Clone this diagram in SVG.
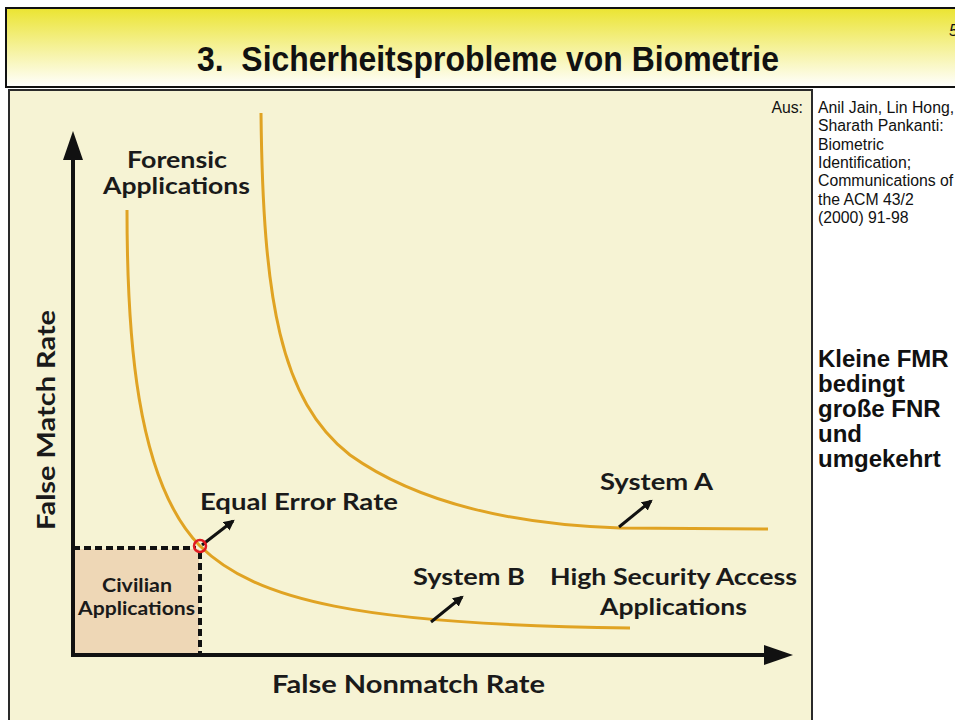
<svg xmlns="http://www.w3.org/2000/svg" width="955" height="720" viewBox="0 0 955 720">
<defs>
<linearGradient id="tg" x1="0" y1="0" x2="0" y2="1">
<stop offset="0" stop-color="#ebe431"/>
<stop offset="1" stop-color="#ffffff"/>
</linearGradient>
<marker id="ah" viewBox="0 0 10 10" refX="8" refY="5" markerWidth="3.6" markerHeight="3.6" orient="auto" markerUnits="strokeWidth">
<path d="M0,0 L10,5 L0,10 z" fill="#111"/>
</marker>
</defs>
<style>
.lbl{font-family:Lato,"Open Sans",sans-serif;font-weight:bold;fill:#1a1a1a;font-size:23px}
.sm{font-size:18px}
.ax{font-size:24px}
.cite{font-family:"Liberation Sans",Arial,sans-serif;font-size:15.8px;fill:#111}
.big{font-family:"Liberation Sans",Arial,sans-serif;font-size:24px;font-weight:bold;fill:#111}
.curve{fill:none;stroke:#e0a323;stroke-width:3}
.dash{fill:none;stroke:#111;stroke-width:4;stroke-dasharray:7 4}
.pt{fill:none;stroke:#111;stroke-width:3;marker-end:url(#ah)}
</style>
<rect width="955" height="720" fill="#ffffff"/>
<g id="titlebox">
<rect x="6" y="8" width="960" height="79" fill="url(#tg)" stroke="#111" stroke-width="2"/>
<text x="197" y="71" textLength="582" lengthAdjust="spacingAndGlyphs" font-family="'Liberation Sans',Arial,sans-serif" font-weight="bold" font-size="35" fill="#111">3.&#160; Sicherheitsprobleme von Biometrie</text>
<text x="949" y="36" font-family="'Liberation Sans',Arial,sans-serif" font-style="italic" font-size="16" fill="#111">5</text>
</g>
<g id="chart-bg">
<rect x="9" y="90" width="803" height="640" fill="#f6f3d4" stroke="#2a2a2a" stroke-width="2"/>
<rect x="75" y="549" width="124" height="105" fill="#eed7b6"/>
</g>
<g id="connectors">
<path class="curve" d="M261,113 C263,300 280,400 350,455 C420,505 520,525 620,528 L768,529"/>
<path class="curve" d="M127,210 C127,330 135,480 200,546 C255,600 360,625 630,628"/>
<path class="dash" d="M73,548 L196,548"/>
<path class="dash" d="M200,552 L200,654"/>
<line x1="73" y1="656" x2="73" y2="155" stroke="#111" stroke-width="4"/>
<polygon points="73,131 63,160 83,160" fill="#111"/>
<line x1="71" y1="655" x2="770" y2="655" stroke="#111" stroke-width="4"/>
<polygon points="793,655 764,645 764,665" fill="#111"/>
<line class="pt" x1="202" y1="545" x2="233" y2="521"/>
<line class="pt" x1="619" y1="527" x2="651" y2="501"/>
<line class="pt" x1="431" y1="622" x2="462" y2="597"/>
</g>
<g id="eer">
<circle cx="200" cy="546" r="6" fill="none" stroke="#e01b22" stroke-width="2.5"/>
</g>
<g id="labels">
<text class="lbl" x="127" y="168" textLength="100" lengthAdjust="spacingAndGlyphs">Forensic</text>
<text class="lbl" x="103" y="194" textLength="147" lengthAdjust="spacingAndGlyphs">Applications</text>
<text class="lbl" x="200" y="510" textLength="198" lengthAdjust="spacingAndGlyphs">Equal Error Rate</text>
<text class="lbl" x="600" y="490" textLength="113" lengthAdjust="spacingAndGlyphs">System A</text>
<text class="lbl" x="413" y="585" textLength="112" lengthAdjust="spacingAndGlyphs">System B</text>
<text class="lbl" x="550" y="585" textLength="247" lengthAdjust="spacingAndGlyphs">High Security Access</text>
<text class="lbl" x="600" y="615" textLength="147" lengthAdjust="spacingAndGlyphs">Applications</text>
<text class="lbl sm" x="102" y="592" textLength="70" lengthAdjust="spacingAndGlyphs">Civilian</text>
<text class="lbl sm" x="78" y="615" textLength="117" lengthAdjust="spacingAndGlyphs">Applications</text>
<text class="lbl ax" x="272" y="693" textLength="273" lengthAdjust="spacingAndGlyphs">False Nonmatch Rate</text>
<text class="lbl ax" transform="translate(55,530) rotate(-90)" textLength="220" lengthAdjust="spacingAndGlyphs">False Match Rate</text>
</g>
<g id="citation">
<text class="cite" x="803" y="113" text-anchor="end">Aus:</text>
<text class="cite" x="818" y="113">Anil Jain, Lin Hong,</text>
<text class="cite" x="818" y="131">Sharath Pankanti:</text>
<text class="cite" x="818" y="150">Biometric</text>
<text class="cite" x="818" y="168">Identification;</text>
<text class="cite" x="818" y="186">Communications of</text>
<text class="cite" x="818" y="205">the ACM 43/2</text>
<text class="cite" x="818" y="223">(2000) 91-98</text>
</g>
<g id="note">
<text class="big" x="818" y="367">Kleine FMR</text>
<text class="big" x="818" y="392">bedingt</text>
<text class="big" x="818" y="417">große FNR</text>
<text class="big" x="818" y="442">und</text>
<text class="big" x="818" y="467">umgekehrt</text>
</g>
</svg>
